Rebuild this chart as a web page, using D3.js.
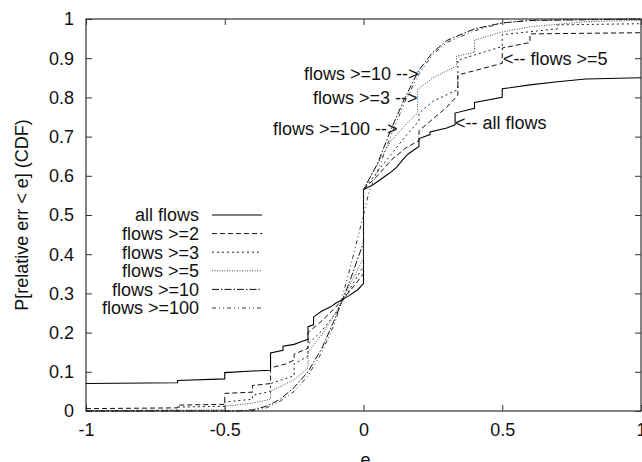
<!DOCTYPE html>
<html>
<head>
<meta charset="utf-8">
<script src="https://cdn.jsdelivr.net/npm/d3@7"></script>
<style>
  html, body { margin: 0; padding: 0; background: #fff; }
  svg { display: block; }
  text { font-family: "Liberation Sans", Arial, Helvetica, sans-serif; fill: #111; }
</style>
</head>
<body>
<svg id="chart" width="642" height="462"></svg>
<script>
// ---------------- data ----------------
const xTicks = [-1, -0.5, 0, 0.5, 1];
const yTicks = [0, 0.1, 0.2, 0.3, 0.4, 0.5, 0.6, 0.7, 0.8, 0.9, 1];
const seriesNames = ["all flows", "flows >=2", "flows >=3", "flows >=5", "flows >=10", "flows >=100"];

const allFlows = [[-1,0.07],[-0.67,0.072],[-0.67,0.078],[-0.5,0.082],[-0.5,0.098],[-0.4,0.102],[-0.335,0.104],[-0.335,0.148],[-0.29,0.155],[-0.29,0.165],[-0.25,0.17],[-0.22,0.178],[-0.2,0.183],[-0.2,0.215],[-0.18,0.22],[-0.18,0.24],[-0.15,0.255],[-0.12,0.265],[-0.1,0.275],[-0.05,0.295],[-0.02,0.31],[0,0.325],[0,0.565],[0.03,0.575],[0.05,0.585],[0.08,0.6],[0.1,0.61],[0.12,0.622],[0.14,0.64],[0.16,0.655],[0.18,0.665],[0.2,0.675],[0.2,0.695],[0.24,0.705],[0.24,0.712],[0.3,0.722],[0.33,0.73],[0.33,0.76],[0.4,0.772],[0.4,0.787],[0.5,0.8],[0.5,0.822],[0.6,0.832],[0.7,0.84],[0.8,0.847],[1,0.85]];

const flows2 = [[-1,0.006],[-0.67,0.008],[-0.67,0.015],[-0.5,0.017],[-0.5,0.045],[-0.4,0.048],[-0.4,0.065],[-0.335,0.07],[-0.335,0.11],[-0.28,0.12],[-0.25,0.13],[-0.25,0.145],[-0.2,0.16],[-0.2,0.2],[-0.15,0.23],[-0.1,0.265],[-0.05,0.305],[0,0.35],[0,0.565],[0.05,0.6],[0.1,0.64],[0.15,0.67],[0.2,0.69],[0.2,0.715],[0.25,0.745],[0.3,0.775],[0.34,0.806],[0.34,0.857],[0.42,0.872],[0.5,0.887],[0.5,0.926],[0.6,0.94],[0.6,0.962],[1,0.965]];

const flows3 = [[-1,0.001],[-0.67,0.002],[-0.67,0.01],[-0.5,0.012],[-0.5,0.023],[-0.4,0.03],[-0.4,0.04],[-0.335,0.05],[-0.335,0.07],[-0.25,0.09],[-0.25,0.12],[-0.2,0.14],[-0.2,0.17],[-0.15,0.205],[-0.1,0.25],[-0.05,0.31],[0,0.37],[0,0.565],[0.05,0.61],[0.1,0.655],[0.15,0.7],[0.2,0.74],[0.2,0.76],[0.25,0.79],[0.34,0.82],[0.34,0.895],[0.5,0.93],[0.5,0.96],[0.7,0.975],[0.7,0.985],[1,0.988]];

const flows5 = [[-1,0],[-0.5,0.003],[-0.5,0.012],[-0.4,0.02],[-0.335,0.03],[-0.335,0.05],[-0.25,0.08],[-0.2,0.11],[-0.2,0.15],[-0.15,0.195],[-0.1,0.25],[-0.05,0.32],[0,0.39],[0,0.565],[0.05,0.63],[0.1,0.69],[0.165,0.74],[0.195,0.76],[0.195,0.82],[0.25,0.85],[0.335,0.88],[0.335,0.905],[0.4,0.915],[0.4,0.946],[0.5,0.967],[0.6,0.98],[0.8,0.993],[1,0.997]];

const flows10 = [[-1,0],[-0.45,0],[-0.4,0.003],[-0.35,0.012],[-0.3,0.03],[-0.25,0.06],[-0.2,0.1],[-0.15,0.16],[-0.1,0.24],[-0.05,0.33],[0,0.43],[0,0.565],[0.05,0.63],[0.1,0.72],[0.15,0.8],[0.2,0.87],[0.25,0.915],[0.3,0.945],[0.4,0.975],[0.5,0.99],[0.6,0.996],[1,1]];

const flows100 = [[-1,0],[-0.4,0],[-0.35,0.008],[-0.3,0.025],[-0.25,0.05],[-0.2,0.09],[-0.15,0.15],[-0.1,0.23],[-0.05,0.36],[0,0.5],[0.02,0.56],[0.05,0.61],[0.1,0.705],[0.15,0.79],[0.2,0.86],[0.25,0.91],[0.3,0.94],[0.4,0.97],[0.5,0.99],[0.6,0.997],[1,1]];

const seriesData = [allFlows, flows2, flows3, flows5, flows10, flows100];

const annoTexts = ["flows >=10 -->", "flows >=3 -->", "flows >=100 -->", "<-- flows >=5", "<-- all flows"];
const annoPoints = [[0.198, 0.86], [0.195, 0.80], [0.123, 0.72], [0.503, 0.9], [0.33, 0.735]];

// ---------------- styles ----------------
const dashes = ["none", "5,3", "2,3", "1,1.5", "7,2,1.5,2", "4,3,1,3,1,3"];
const strokes = ["#000", "#111", "#222", "#444", "#111", "#333"];
const widths = [1.1, 1, 1, 1, 1, 1];

// ---------------- layout ----------------
const svg = d3.select("#chart");
const L = 86, R = 641, T = 19, B = 411;
const x = d3.scaleLinear().domain([-1, 1]).range([L, R]);
const y = d3.scaleLinear().domain([0, 1]).range([B, T]);
const fmt = d => String(+d.toFixed(2));

// axes with inward ticks
const axB = svg.append("g").attr("transform", `translate(0,${B})`)
  .call(d3.axisBottom(x).tickValues(xTicks).tickSize(-6).tickPadding(12).tickFormat(fmt));
const axT = svg.append("g").attr("transform", `translate(0,${T})`)
  .call(d3.axisTop(x).tickValues(xTicks).tickSize(-6).tickFormat(""));
const axL = svg.append("g").attr("transform", `translate(${L},0)`)
  .call(d3.axisLeft(y).tickValues(yTicks).tickSize(-6).tickPadding(12).tickFormat(fmt));
const axR = svg.append("g").attr("transform", `translate(${R},0)`)
  .call(d3.axisRight(y).tickValues(yTicks).tickSize(-6).tickFormat(""));

[axB, axT, axL, axR].forEach(g => {
  g.select(".domain").remove();
  g.selectAll(".tick line").attr("stroke", "#333").attr("stroke-width", 1);
  g.selectAll("text").attr("font-size", 18).attr("fill", "#111")
    .attr("font-family", '"Liberation Sans", Arial, sans-serif');
});
axB.selectAll("text").attr("dy", null).attr("y", 25);
axL.selectAll("text").attr("dy", "0.33em").attr("x", -12);

// frame
svg.append("rect").attr("x", L).attr("y", T).attr("width", R - L).attr("height", B - T)
  .attr("fill", "none").attr("stroke", "#333").attr("stroke-width", 1.2);

// lines
const line = d3.line().x(d => x(d[0])).y(d => y(d[1]));
svg.append("g").selectAll("path").data(seriesData).join("path")
  .attr("d", line)
  .attr("fill", "none")
  .attr("stroke", (d, i) => strokes[i])
  .attr("stroke-width", (d, i) => widths[i])
  .attr("stroke-dasharray", (d, i) => dashes[i]);

// legend
const lg = svg.append("g");
seriesNames.forEach((name, i) => {
  const cy = 215 + i * 18.6;
  lg.append("text").attr("x", 199).attr("y", cy).attr("dy", "0.36em")
    .attr("text-anchor", "end").attr("font-size", 18).text(name);
  lg.append("line").attr("x1", 212).attr("x2", 262).attr("y1", cy).attr("y2", cy)
    .attr("stroke", strokes[i]).attr("stroke-width", widths[i])
    .attr("stroke-dasharray", dashes[i]);
});

// annotations
annoTexts.forEach((t, i) => {
  const p = annoPoints[i];
  const leftArrow = t.startsWith("<");
  svg.append("text")
    .attr("x", x(p[0]))
    .attr("y", y(p[1]))
    .attr("dy", "0.35em")
    .attr("text-anchor", leftArrow ? "start" : "end")
    .attr("font-size", 18)
    .text(t);
});

// axis titles
svg.append("text").attr("x", (L + R) / 2 + 2).attr("y", 466)
  .attr("text-anchor", "middle").attr("font-size", 18).text("e");
svg.append("text").attr("transform", "translate(28,215) rotate(-90)")
  .attr("text-anchor", "middle").attr("font-size", 18).text("P[relative err < e] (CDF)");
</script>
</body>
</html>
